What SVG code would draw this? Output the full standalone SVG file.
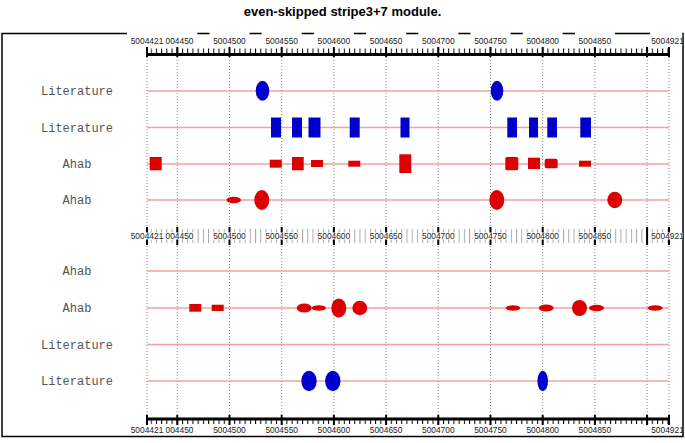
<svg xmlns="http://www.w3.org/2000/svg" width="685" height="443" viewBox="0 0 685 443">
<style>
.title{font-family:"Liberation Sans",Arial,sans-serif;font-weight:bold;font-size:13px;fill:#000}
.lab{font-family:"Liberation Mono","Courier New",monospace;font-size:12px;fill:#555;text-anchor:middle}
.rl{font-family:"Liberation Sans",Arial,sans-serif;font-size:8.4px;fill:#222;text-anchor:middle}
.grid{stroke:#888;stroke-width:1;stroke-dasharray:1 2;fill:none}
.row{stroke:#f2a2a2;stroke-width:1.3;fill:none}
.blue{fill:#0000cc}
.red{fill:#dd0000}
.maj{stroke:#000;stroke-width:2}
.wb{fill:#fff}
</style>
<defs>
<pattern id="tk" x="150.676" y="0" width="5.22" height="30" patternUnits="userSpaceOnUse"><rect width="1" height="30" fill="#000"/></pattern>
<pattern id="tkg" x="150.676" y="0" width="5.22" height="30" patternUnits="userSpaceOnUse"><rect width="1" height="30" fill="#aaa"/></pattern>
</defs>
<rect width="685" height="443" fill="#fff"/>
<text class="title" x="342.5" y="16" text-anchor="middle">even-skipped stripe3+7 module.</text>

<!-- frame -->
<rect x="2" y="33.5" width="681" height="403" fill="none" stroke="#000" stroke-width="1.5"/>

<!-- grid -->
<g id="grid">
<path class="grid" d="M147,57V417M177.28,57V417M229.48,57V417M281.68,57V417M333.88,57V417M386.08,57V417M438.28,57V417M490.48,57V417M542.68,57V417M594.88,57V417M647.08,57V417M669,57V417"/>
</g>

<!-- top ruler -->
<g id="ruler-top">
<rect x="127" y="30" width="40" height="16" class="wb"/>
<rect x="157.3" y="30" width="40" height="16" class="wb"/>
<rect x="209.5" y="30" width="40" height="16" class="wb"/>
<rect x="261.7" y="30" width="40" height="16" class="wb"/>
<rect x="313.9" y="30" width="40" height="16" class="wb"/>
<rect x="366.1" y="30" width="40" height="16" class="wb"/>
<rect x="418.3" y="30" width="40" height="16" class="wb"/>
<rect x="470.5" y="30" width="40" height="16" class="wb"/>
<rect x="522.7" y="30" width="40" height="16" class="wb"/>
<rect x="574.9" y="30" width="40" height="16" class="wb"/>
<rect x="650" y="30" width="32.2" height="16" class="wb"/>
<text class="rl" x="193.5" y="43.5" style="text-anchor:end">004450</text>
<rect x="130" y="36" width="32.5" height="9" class="wb"/>
<text class="rl" x="147" y="43.5">5004421</text>
<text class="rl" x="229.48" y="43.5">5004500</text>
<text class="rl" x="281.68" y="43.5">5004550</text>
<text class="rl" x="333.88" y="43.5">5004600</text>
<text class="rl" x="386.08" y="43.5">5004650</text>
<text class="rl" x="438.28" y="43.5">5004700</text>
<text class="rl" x="490.48" y="43.5">5004750</text>
<text class="rl" x="542.68" y="43.5">5004800</text>
<text class="rl" x="594.88" y="43.5">5004850</text>
<text class="rl" x="667.5" y="43.5">5004921</text>
<rect x="150.6" y="48.5" width="518" height="5" fill="url(#tk)"/>
<rect x="147" y="53" width="522" height="3" fill="#000"/>
<path class="maj" d="M147,47V57M177.28,47V57M229.48,47V57M281.68,47V57M333.88,47V57M386.08,47V57M438.28,47V57M490.48,47V57M542.68,47V57M594.88,47V57M647.08,47V57M669,47V57"/>
</g>

<!-- middle ruler -->
<g id="ruler-mid">
<rect x="145" y="227" width="526" height="18" class="wb"/>
<rect x="150.6" y="229" width="518" height="14" fill="url(#tkg)"/>
<path class="maj" d="M147,227V245M177.28,227V245M229.48,227V245M281.68,227V245M333.88,227V245M386.08,227V245M438.28,227V245M490.48,227V245M542.68,227V245M594.88,227V245M647.08,227V245M669,227V245"/>
<rect x="161" y="232.5" width="34" height="7" class="wb"/>
<text class="rl" x="193.5" y="239" style="text-anchor:end">004450</text>
<rect x="130" y="232.5" width="33" height="7" class="wb"/>
<text class="rl" x="147" y="239">5004421</text>
<rect x="212.5" y="232.5" width="34" height="7" class="wb"/>
<text class="rl" x="229.48" y="239">5004500</text>
<rect x="264.7" y="232.5" width="34" height="7" class="wb"/>
<text class="rl" x="281.68" y="239">5004550</text>
<rect x="316.9" y="232.5" width="34" height="7" class="wb"/>
<text class="rl" x="333.88" y="239">5004600</text>
<rect x="369.1" y="232.5" width="34" height="7" class="wb"/>
<text class="rl" x="386.08" y="239">5004650</text>
<rect x="421.3" y="232.5" width="34" height="7" class="wb"/>
<text class="rl" x="438.28" y="239">5004700</text>
<rect x="473.5" y="232.5" width="34" height="7" class="wb"/>
<text class="rl" x="490.48" y="239">5004750</text>
<rect x="525.7" y="232.5" width="34" height="7" class="wb"/>
<text class="rl" x="542.68" y="239">5004800</text>
<rect x="577.9" y="232.5" width="34" height="7" class="wb"/>
<text class="rl" x="594.88" y="239">5004850</text>
<rect x="651.5" y="232.5" width="31" height="7" class="wb"/>
<text class="rl" x="667.5" y="239">5004921</text>
</g>

<!-- bottom ruler -->
<g id="ruler-bottom">
<rect x="147" y="417.5" width="522" height="3" fill="#000"/>
<rect x="150.6" y="420" width="518" height="4" fill="url(#tk)"/>
<path class="maj" d="M147,415V425M177.28,415V425M229.48,415V425M281.68,415V425M333.88,415V425M386.08,415V425M438.28,415V425M490.48,415V425M542.68,415V425M594.88,415V425M647.08,415V425M669,415V425"/>
<text class="rl" x="193.5" y="432.5" style="text-anchor:end">004450</text>
<rect x="130" y="425" width="32.5" height="8" class="wb"/>
<text class="rl" x="147" y="432.5">5004421</text>
<text class="rl" x="229.48" y="432.5">5004500</text>
<text class="rl" x="281.68" y="432.5">5004550</text>
<text class="rl" x="333.88" y="432.5">5004600</text>
<text class="rl" x="386.08" y="432.5">5004650</text>
<text class="rl" x="438.28" y="432.5">5004700</text>
<text class="rl" x="490.48" y="432.5">5004750</text>
<text class="rl" x="542.68" y="432.5">5004800</text>
<text class="rl" x="594.88" y="432.5">5004850</text>
<text class="rl" x="667.5" y="432.5">5004921</text>
</g>

<!-- track lines -->
<g id="rows">
<path class="row" d="M147,91H669M147,127.5H669M147,164H669M147,200H669M147,271H669M147,308H669M147,344.5H669M147,381H669"/>
</g>

<!-- labels -->
<g id="track-labels">
<text class="lab" x="77" y="95">Literature</text>
<text class="lab" x="77" y="131.5">Literature</text>
<text class="lab" x="77" y="168">Ahab</text>
<text class="lab" x="77" y="204">Ahab</text>
<text class="lab" x="77" y="275">Ahab</text>
<text class="lab" x="77" y="312">Ahab</text>
<text class="lab" x="77" y="348.5">Literature</text>
<text class="lab" x="77" y="385">Literature</text>
</g>

<g id="track1-literature">
<ellipse class="blue" cx="262.5" cy="90.7" rx="6.8" ry="10"/>
<ellipse class="blue" cx="497" cy="90.7" rx="6.3" ry="10"/>
</g>
<g id="track2-literature">
<rect class="blue" x="271" y="117.5" width="10" height="20"/>
<rect class="blue" x="292" y="117.5" width="10" height="20"/>
<rect class="blue" x="308.5" y="117.5" width="12" height="20"/>
<rect class="blue" x="349.7" y="117.5" width="10" height="20"/>
<rect class="blue" x="400.5" y="117.5" width="9" height="20"/>
<rect class="blue" x="507.3" y="117.5" width="9.7" height="20"/>
<rect class="blue" x="529" y="117.5" width="9" height="20"/>
<rect class="blue" x="547.3" y="117.5" width="9.7" height="20"/>
<rect class="blue" x="580.3" y="117.5" width="10.7" height="20"/>
</g>
<g id="track3-ahab">
<rect class="red" x="149.7" y="157" width="12" height="13.3"/>
<rect class="red" x="269.7" y="159.7" width="12" height="8"/>
<rect class="red" x="292" y="157" width="11.7" height="13.3"/>
<rect class="red" x="311" y="160" width="12" height="7"/>
<rect class="red" x="348.3" y="160.7" width="12" height="6"/>
<rect class="red" x="399.3" y="154.3" width="12" height="18.7"/>
<rect class="red" x="505.3" y="157" width="13" height="13.3" rx="1.5"/>
<rect class="red" x="528" y="157.7" width="12" height="11.3"/>
<rect class="red" x="544.7" y="158.7" width="13" height="9.6" rx="2"/>
<rect class="red" x="579" y="160.7" width="12" height="6"/>
</g>
<g id="track4-ahab">
<ellipse class="red" cx="233.7" cy="200" rx="7.3" ry="3.3"/>
<ellipse class="red" cx="261.8" cy="200" rx="7.5" ry="10"/>
<ellipse class="red" cx="496.8" cy="200" rx="7.5" ry="10"/>
<ellipse class="red" cx="614.8" cy="200" rx="7.5" ry="8.3"/>
</g>
<g id="track6-ahab">
<rect class="red" x="189.3" y="304" width="12" height="7.7"/>
<rect class="red" x="211.7" y="304.7" width="12" height="6.3"/>
<ellipse class="red" cx="304.2" cy="308" rx="7.5" ry="4.5"/>
<ellipse class="red" cx="318.8" cy="308" rx="7.2" ry="2.8"/>
<ellipse class="red" cx="338.8" cy="308" rx="7.5" ry="9.5"/>
<ellipse class="red" cx="359.8" cy="308" rx="7.5" ry="7.2"/>
<ellipse class="red" cx="513" cy="308" rx="7.3" ry="2.8"/>
<ellipse class="red" cx="546.2" cy="308" rx="7.5" ry="3.5"/>
<ellipse class="red" cx="579.5" cy="308" rx="7.5" ry="8"/>
<ellipse class="red" cx="596.5" cy="308" rx="7.5" ry="3.2"/>
<ellipse class="red" cx="655.2" cy="308" rx="7.5" ry="2.8"/>
</g>
<g id="track8-literature">
<ellipse class="blue" cx="309" cy="381" rx="7.7" ry="10.2"/>
<ellipse class="blue" cx="332.8" cy="381" rx="7.7" ry="10.2"/>
<ellipse class="blue" cx="542.7" cy="381" rx="5.3" ry="10.2"/>
</g>
</svg>
